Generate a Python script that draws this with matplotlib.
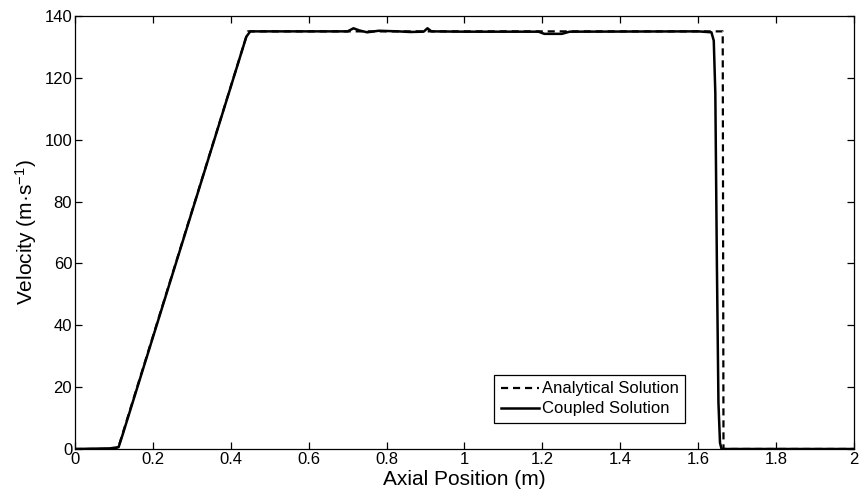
#!/usr/bin/env python3
"""Velocity along the axial position: analytical vs coupled solution."""

import matplotlib
matplotlib.use("Agg")
import matplotlib.pyplot as plt

plt.rcParams["font.family"] = ["Liberation Sans", "DejaVu Sans"]
plt.rcParams["mathtext.default"] = "regular"

# analytical solution: ramp then plateau, sharp drop at the end
analytical_x = [0.0, 0.110, 0.444, 1.663, 1.665, 2.0]
analytical_v = [0.0, 0.0, 135.0, 135.0, 0.0, 0.0]

# coupled solution
coupled_x = [0.0, 0.09, 0.112, 0.122, 0.440, 0.450, 0.700, 0.715, 0.730, 0.750,
             0.780, 0.830, 0.860, 0.895, 0.905, 0.915, 1.000, 1.190, 1.205,
             1.250, 1.270, 1.600, 1.634, 1.640, 1.644, 1.648, 1.652, 1.656,
             1.660, 2.0]
coupled_v = [0.0, 0.2, 0.6, 4.5, 133.3, 135.0, 135.0, 136.0, 135.3, 134.7,
             135.2, 135.0, 134.8, 134.9, 136.0, 135.0, 134.9, 134.9, 134.2,
             134.2, 134.9, 135.0, 134.7, 132.0, 115.0, 60.0, 15.0, 2.0,
             0.0, 0.0]

x_ticks = [0, 0.2, 0.4, 0.6, 0.8, 1, 1.2, 1.4, 1.6, 1.8, 2]
x_tick_labels = ["0", "0.2", "0.4", "0.6", "0.8", "1", "1.2", "1.4", "1.6", "1.8", "2"]
y_ticks = [0, 20, 40, 60, 80, 100, 120, 140]


def main() -> None:
    fig = plt.figure(figsize=(8.6, 4.97), dpi=100)
    ax = fig.add_axes([0.0872, 0.0966, 0.9058, 0.8714])

    ax.plot(analytical_x, analytical_v, "k--", lw=1.6, dashes=(3.2, 2.2),
            label="Analytical Solution")
    ax.plot(coupled_x, coupled_v, "k-", lw=1.8, label="Coupled Solution")

    ax.set_xlim(0, 2)
    ax.set_ylim(0, 140)
    ax.set_xticks(x_ticks)
    ax.set_xticklabels(x_tick_labels)
    ax.set_yticks(y_ticks)
    ax.tick_params(direction="in", top=True, right=True, length=5, width=0.9,
                   labelsize=12, pad=2)
    for spine in ax.spines.values():
        spine.set_linewidth(0.9)

    ax.set_xlabel("Axial Position (m)", fontsize=15, labelpad=2)
    ax.set_ylabel("Velocity (m\u00b7s$^{-1}$)", fontsize=15, labelpad=4)

    leg = ax.legend(loc="lower left", bbox_to_anchor=(0.538, 0.060),
                    borderaxespad=0, fancybox=False, framealpha=1,
                    edgecolor="black", fontsize=12, handlelength=2.3,
                    handletextpad=0.15, labelspacing=0.3, borderpad=0.4)
    leg.get_frame().set_linewidth(0.9)

    fig.savefig("out.png", dpi=100)
    plt.close(fig)


if __name__ == "__main__":
    main()
